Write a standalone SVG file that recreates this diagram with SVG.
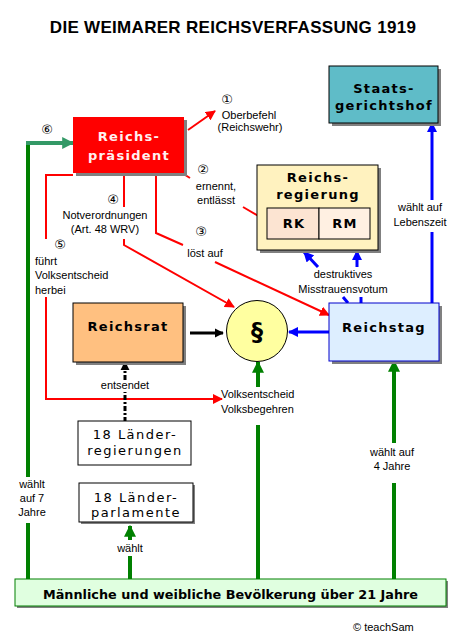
<svg xmlns="http://www.w3.org/2000/svg" width="454" height="636" viewBox="0 0 454 636">
<defs>
<style>
.t{font-family:"Liberation Sans",Arial,sans-serif;font-size:11px;fill:#000}
.d{font-family:"DejaVu Sans",sans-serif;font-size:13px;fill:#000;text-anchor:middle}
.b{font-family:"DejaVu Sans",Verdana,sans-serif;font-weight:bold;font-size:13px;letter-spacing:1.3px;text-anchor:middle}
.l{font-family:"DejaVu Sans",Verdana,sans-serif;font-size:13px;letter-spacing:1.5px;text-anchor:middle}
.m{text-anchor:middle}
.sh{fill:#808080}
.red{stroke:#FF0000;stroke-width:2;fill:none}
.grn{stroke:#008000;stroke-width:4;fill:none}
.blu{stroke:#0000FF;stroke-width:3;fill:none}
</style>
<marker id="ar" viewBox="0 0 10 10" refX="9" refY="5" markerWidth="5" markerHeight="5" orient="auto" markerUnits="strokeWidth"><path d="M0,0 L10,5 L0,10 z" fill="#FF0000"/></marker>
<marker id="ab" viewBox="0 0 10 10" refX="9" refY="5" markerWidth="3.5" markerHeight="3.5" orient="auto" markerUnits="strokeWidth"><path d="M0,0 L10,5 L0,10 z" fill="#0000FF"/></marker>
<marker id="ag" viewBox="0 0 10 10" refX="9" refY="5" markerWidth="3" markerHeight="3.5" orient="auto" markerUnits="strokeWidth"><path d="M0,0 L10,5 L0,10 z" fill="#008000"/></marker>
<marker id="ag2" viewBox="0 0 10 10" refX="9" refY="5" markerWidth="3" markerHeight="3.5" orient="auto" markerUnits="strokeWidth"><path d="M0,0 L10,5 L0,10 z" fill="#339966"/></marker>
<marker id="ak" viewBox="0 0 10 10" refX="9" refY="5" markerWidth="3" markerHeight="3.5" orient="auto" markerUnits="strokeWidth"><path d="M0,0 L10,5 L0,10 z" fill="#000"/></marker>
</defs>
<rect width="454" height="636" fill="#fff"/>
<text x="233" y="33" text-anchor="middle" font-family="'Liberation Sans',Arial,sans-serif" font-weight="bold" font-size="17" letter-spacing="0.3">DIE WEIMARER REICHSVERFASSUNG 1919</text>

<g id="connectors">
 <line class="red" x1="188" y1="130" x2="215" y2="111" marker-end="url(#ar)"/>
 <polyline class="red" points="182,173 190,178"/>
 <line class="red" x1="243" y1="207" x2="267" y2="221" marker-end="url(#ar)"/>
 <polyline class="red" points="156,175 156,233 183,245"/>
 <line class="red" x1="215" y1="262" x2="329" y2="315" marker-end="url(#ar)"/>
 <line class="red" x1="124" y1="175" x2="124" y2="207"/>
 <polyline class="red" points="124,239 124,245 234,307" marker-end="url(#ar)"/>
 <polyline class="red" points="73,175 46,175 46,239"/>
 <polyline class="red" points="46,297 46,399 222,399" marker-end="url(#ar)"/>
 <line class="grn" x1="28" y1="579" x2="28" y2="523"/>
 <line class="grn" x1="28" y1="477" x2="28" y2="141"/>
 <line x1="26" y1="143" x2="73" y2="143" stroke="#339966" stroke-width="4" marker-end="url(#ag2)"/>
 <line class="grn" x1="130" y1="579" x2="130" y2="556"/>
 <line class="grn" x1="130" y1="540" x2="130" y2="526" marker-end="url(#ag)"/>
 <line class="grn" x1="258" y1="579" x2="258" y2="425"/>
 <line class="grn" x1="258" y1="387" x2="258" y2="362" marker-end="url(#ag)"/>
 <line class="grn" x1="394" y1="579" x2="394" y2="483"/>
 <line class="grn" x1="394" y1="443" x2="394" y2="361" marker-end="url(#ag)"/>
 <line class="blu" x1="432" y1="303" x2="432" y2="232"/>
 <line class="blu" x1="432" y1="200" x2="432" y2="123" marker-end="url(#ab)"/>
 <line class="blu" x1="329" y1="332" x2="289" y2="332" marker-end="url(#ab)"/>
 <line class="blu" x1="318" y1="267" x2="304" y2="252" marker-end="url(#ab)"/>
 <line class="blu" x1="357" y1="267" x2="357" y2="251" marker-end="url(#ab)"/>
 <line class="blu" x1="343" y1="297" x2="348" y2="303"/>
 <line class="blu" x1="361" y1="297" x2="361" y2="303"/>
 <line x1="190" y1="333" x2="223" y2="333" stroke="#000" stroke-width="3" marker-end="url(#ak)"/>
 <line x1="125" y1="422" x2="125" y2="392" stroke="#000" stroke-width="3" stroke-dasharray="5,2,2,2"/>
 <line x1="125" y1="380" x2="125" y2="362" stroke="#000" stroke-width="3" stroke-dasharray="5,2,2,2" marker-end="url(#ak)"/>
</g>

<g id="labels">
 <text class="d" x="227" y="104">①</text>
 <text class="t m" x="249" y="119">Oberbefehl</text>
 <text class="t m" x="250" y="131">(Reichswehr)</text>
 <text class="d" x="203" y="174">②</text>
 <text class="t m" x="216" y="190">ernennt,</text>
 <text class="t m" x="216" y="204">entlässt</text>
 <text class="d" x="201" y="236">③</text>
 <text class="t m" x="205" y="257">löst auf</text>
 <text class="d" x="113" y="204">④</text>
 <text class="t m" x="105" y="219">Notverordnungen</text>
 <text class="t m" x="105" y="233">(Art. 48 WRV)</text>
 <text class="d" x="60" y="249">⑤</text>
 <text class="t" x="35" y="265">führt</text>
 <text class="t" x="35" y="279">Volksentscheid</text>
 <text class="t" x="35" y="294">herbei</text>
 <text class="d" x="47" y="134">⑥</text>
 <text class="t m" x="420" y="211">wählt auf</text>
 <text class="t m" x="420" y="226">Lebenszeit</text>
 <text class="t m" x="343" y="278">destruktives</text>
 <text class="t m" x="343" y="293">Misstrauensvotum</text>
 <text class="t m" x="125" y="389">entsendet</text>
 <text class="t" x="221" y="398">Volksentscheid</text>
 <text class="t" x="221" y="413">Volksbegehren</text>
 <text class="t m" x="392" y="456">wählt auf</text>
 <text class="t m" x="392" y="470">4 Jahre</text>
 <text class="t m" x="32" y="488">wählt</text>
 <text class="t m" x="32" y="502">auf 7</text>
 <text class="t m" x="32" y="516">Jahre</text>
 <text class="t m" x="130" y="552">wählt</text>
 <text class="t" x="353" y="631" font-size="10">© teachSam</text>
</g>

<g id="reichspraesident">
 <rect class="sh" x="76" y="120" width="111" height="56"/>
 <rect x="73" y="117" width="111" height="56" fill="#FF0000"/>
 <text class="b" x="129" y="141" fill="#FFF0F0" font-size="14">Reichs-</text>
 <text class="b" x="129" y="160" fill="#FFF0F0" font-size="14">präsident</text>
</g>

<g id="staatsgerichtshof">
 <rect class="sh" x="332" y="69" width="109" height="57"/>
 <rect x="329" y="66" width="109" height="57" fill="#5FBCC8" stroke="#000" stroke-width="1"/>
 <text class="b" x="384" y="93" font-size="14">Staats-</text>
 <text class="b" x="384" y="110" font-size="14">gerichtshof</text>
</g>

<g id="reichsregierung">
 <rect class="sh" x="260" y="168" width="121" height="85"/>
 <rect x="257" y="165" width="121" height="85" fill="#FFF2BF" stroke="#000" stroke-width="1"/>
 <text class="b" x="318" y="182">Reichs-</text>
 <text class="b" x="318" y="199">regierung</text>
 <rect x="267" y="208" width="52" height="31" fill="#FCE4D2" stroke="#000" stroke-width="1"/>
 <rect x="319" y="208" width="51" height="31" fill="#FFF0E2" stroke="#000" stroke-width="1"/>
 <text class="b" x="294" y="228" font-size="12">RK</text>
 <text class="b" x="345" y="228" font-size="12">RM</text>
</g>

<g id="reichstag">
 <rect class="sh" x="332" y="306" width="110" height="58"/>
 <rect x="329" y="303" width="110" height="58" fill="#DDEEFF" stroke="#0000CC" stroke-width="1"/>
 <text class="b" x="384" y="332">Reichstag</text>
</g>

<g id="verfassung">
 <circle cx="257" cy="331" r="30.5" fill="#FFFFA0" stroke="#000" stroke-width="1"/>
 <text x="257" y="340" text-anchor="middle" font-family="'DejaVu Sans',sans-serif" font-weight="bold" font-size="24">§</text>
</g>

<g id="reichsrat">
 <rect class="sh" x="76" y="306" width="110" height="59"/>
 <rect x="73" y="303" width="110" height="59" fill="#FFC080" stroke="#000" stroke-width="1"/>
 <text class="b" x="128" y="331">Reichsrat</text>
</g>

<g id="laenderregierungen">
 <rect x="78" y="421" width="113" height="44" fill="#fff" stroke="#000" stroke-width="1"/>
 <text class="l" x="135" y="439">18 Länder-</text>
 <text class="l" x="135" y="455">regierungen</text>
</g>

<g id="laenderparlamente">
 <rect class="sh" x="81" y="485" width="114" height="39"/>
 <rect x="79" y="483" width="114" height="39" fill="#fff" stroke="#000" stroke-width="1"/>
 <text class="l" x="136" y="502">18 Länder-</text>
 <text class="l" x="136" y="517">parlamente</text>
</g>

<g id="bevoelkerung">
 <rect class="sh" x="17" y="581" width="431" height="27"/>
 <rect x="15" y="579" width="431" height="27" fill="#E0FFE0" stroke="#008000" stroke-width="1"/>
 <text x="43" y="599" font-family="'DejaVu Sans',Verdana,sans-serif" font-weight="bold" font-size="12.5" textLength="375" lengthAdjust="spacingAndGlyphs">Männliche und weibliche Bevölkerung über 21 Jahre</text>
</g>
</svg>
